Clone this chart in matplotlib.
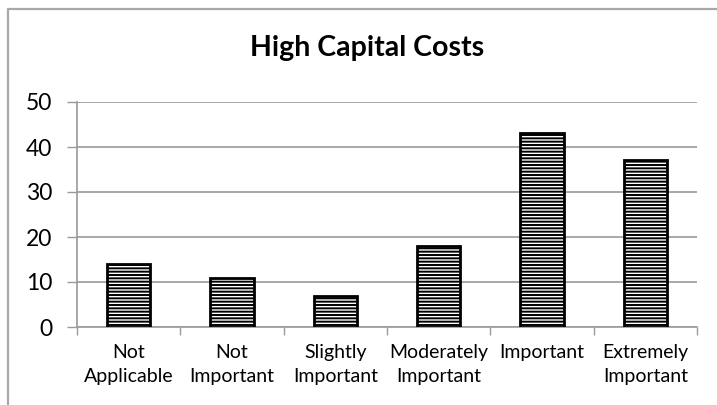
import numpy as np
import matplotlib
matplotlib.use('Agg')
import matplotlib.pyplot as plt
from matplotlib.lines import Line2D

# survey responses: how important are high capital costs
categories = ['Not\nApplicable', 'Not\nImportant', 'Slightly\nImportant',
              'Moderately\nImportant', 'Important', 'Extremely\nImportant']
counts = [14, 11, 7, 18, 43, 37]
yticks = [0, 10, 20, 30, 40, 50]

DPI = 100
W, H = 717, 405
grey = '#9a9a9a'

plt.rcParams['font.family'] = ['Lato', 'DejaVu Sans']
plt.rcParams['hatch.linewidth'] = 1.4

fig = plt.figure(figsize=(W/DPI, H/DPI), dpi=DPI)
ax = fig.add_axes([77/W, (H-327)/H, (697-77)/W, (327-102)/H])

x = np.arange(len(categories))
ax.bar(x, counts, width=0.42, color='white', edgecolor='black',
       linewidth=2.0, hatch='-----', zorder=3)

ax.set_xlim(-0.5, len(categories)-0.5)
ax.set_ylim(0, 50)
ax.set_yticks(yticks)
ax.set_yticklabels([str(v) for v in yticks], fontsize=16.5, color='black')
ax.tick_params(axis='y', length=7, width=1, color=grey, pad=11)

ax.set_xticks(x)
ax.set_xticklabels(categories, fontsize=14, color='black', linespacing=1.55)
ax.tick_params(axis='x', which='major', length=0, pad=12)
ax.set_xticks(np.arange(-0.5, len(categories)), minor=True)
ax.tick_params(axis='x', which='minor', length=6, width=1, color=grey)

ax.grid(axis='y', color=grey, linewidth=1.2, zorder=0)
for side in ['top', 'right']:
    ax.spines[side].set_visible(False)
for side in ['left', 'bottom']:
    ax.spines[side].set_color(grey)
    ax.spines[side].set_linewidth(1.2)

fig.text(367/W, 1 - 48/H, 'High Capital Costs', fontsize=20.5,
         fontweight='bold', ha='center', va='center')

# chart area border, only top and left edges fall inside the image
fig.add_artist(Line2D([7.5/W, 7.5/W, 1.0], [0, 1 - 8.5/H, 1 - 8.5/H],
                      transform=fig.transFigure, color='#a8a8a8', linewidth=1.6))

plt.savefig('out.png', dpi=DPI)
